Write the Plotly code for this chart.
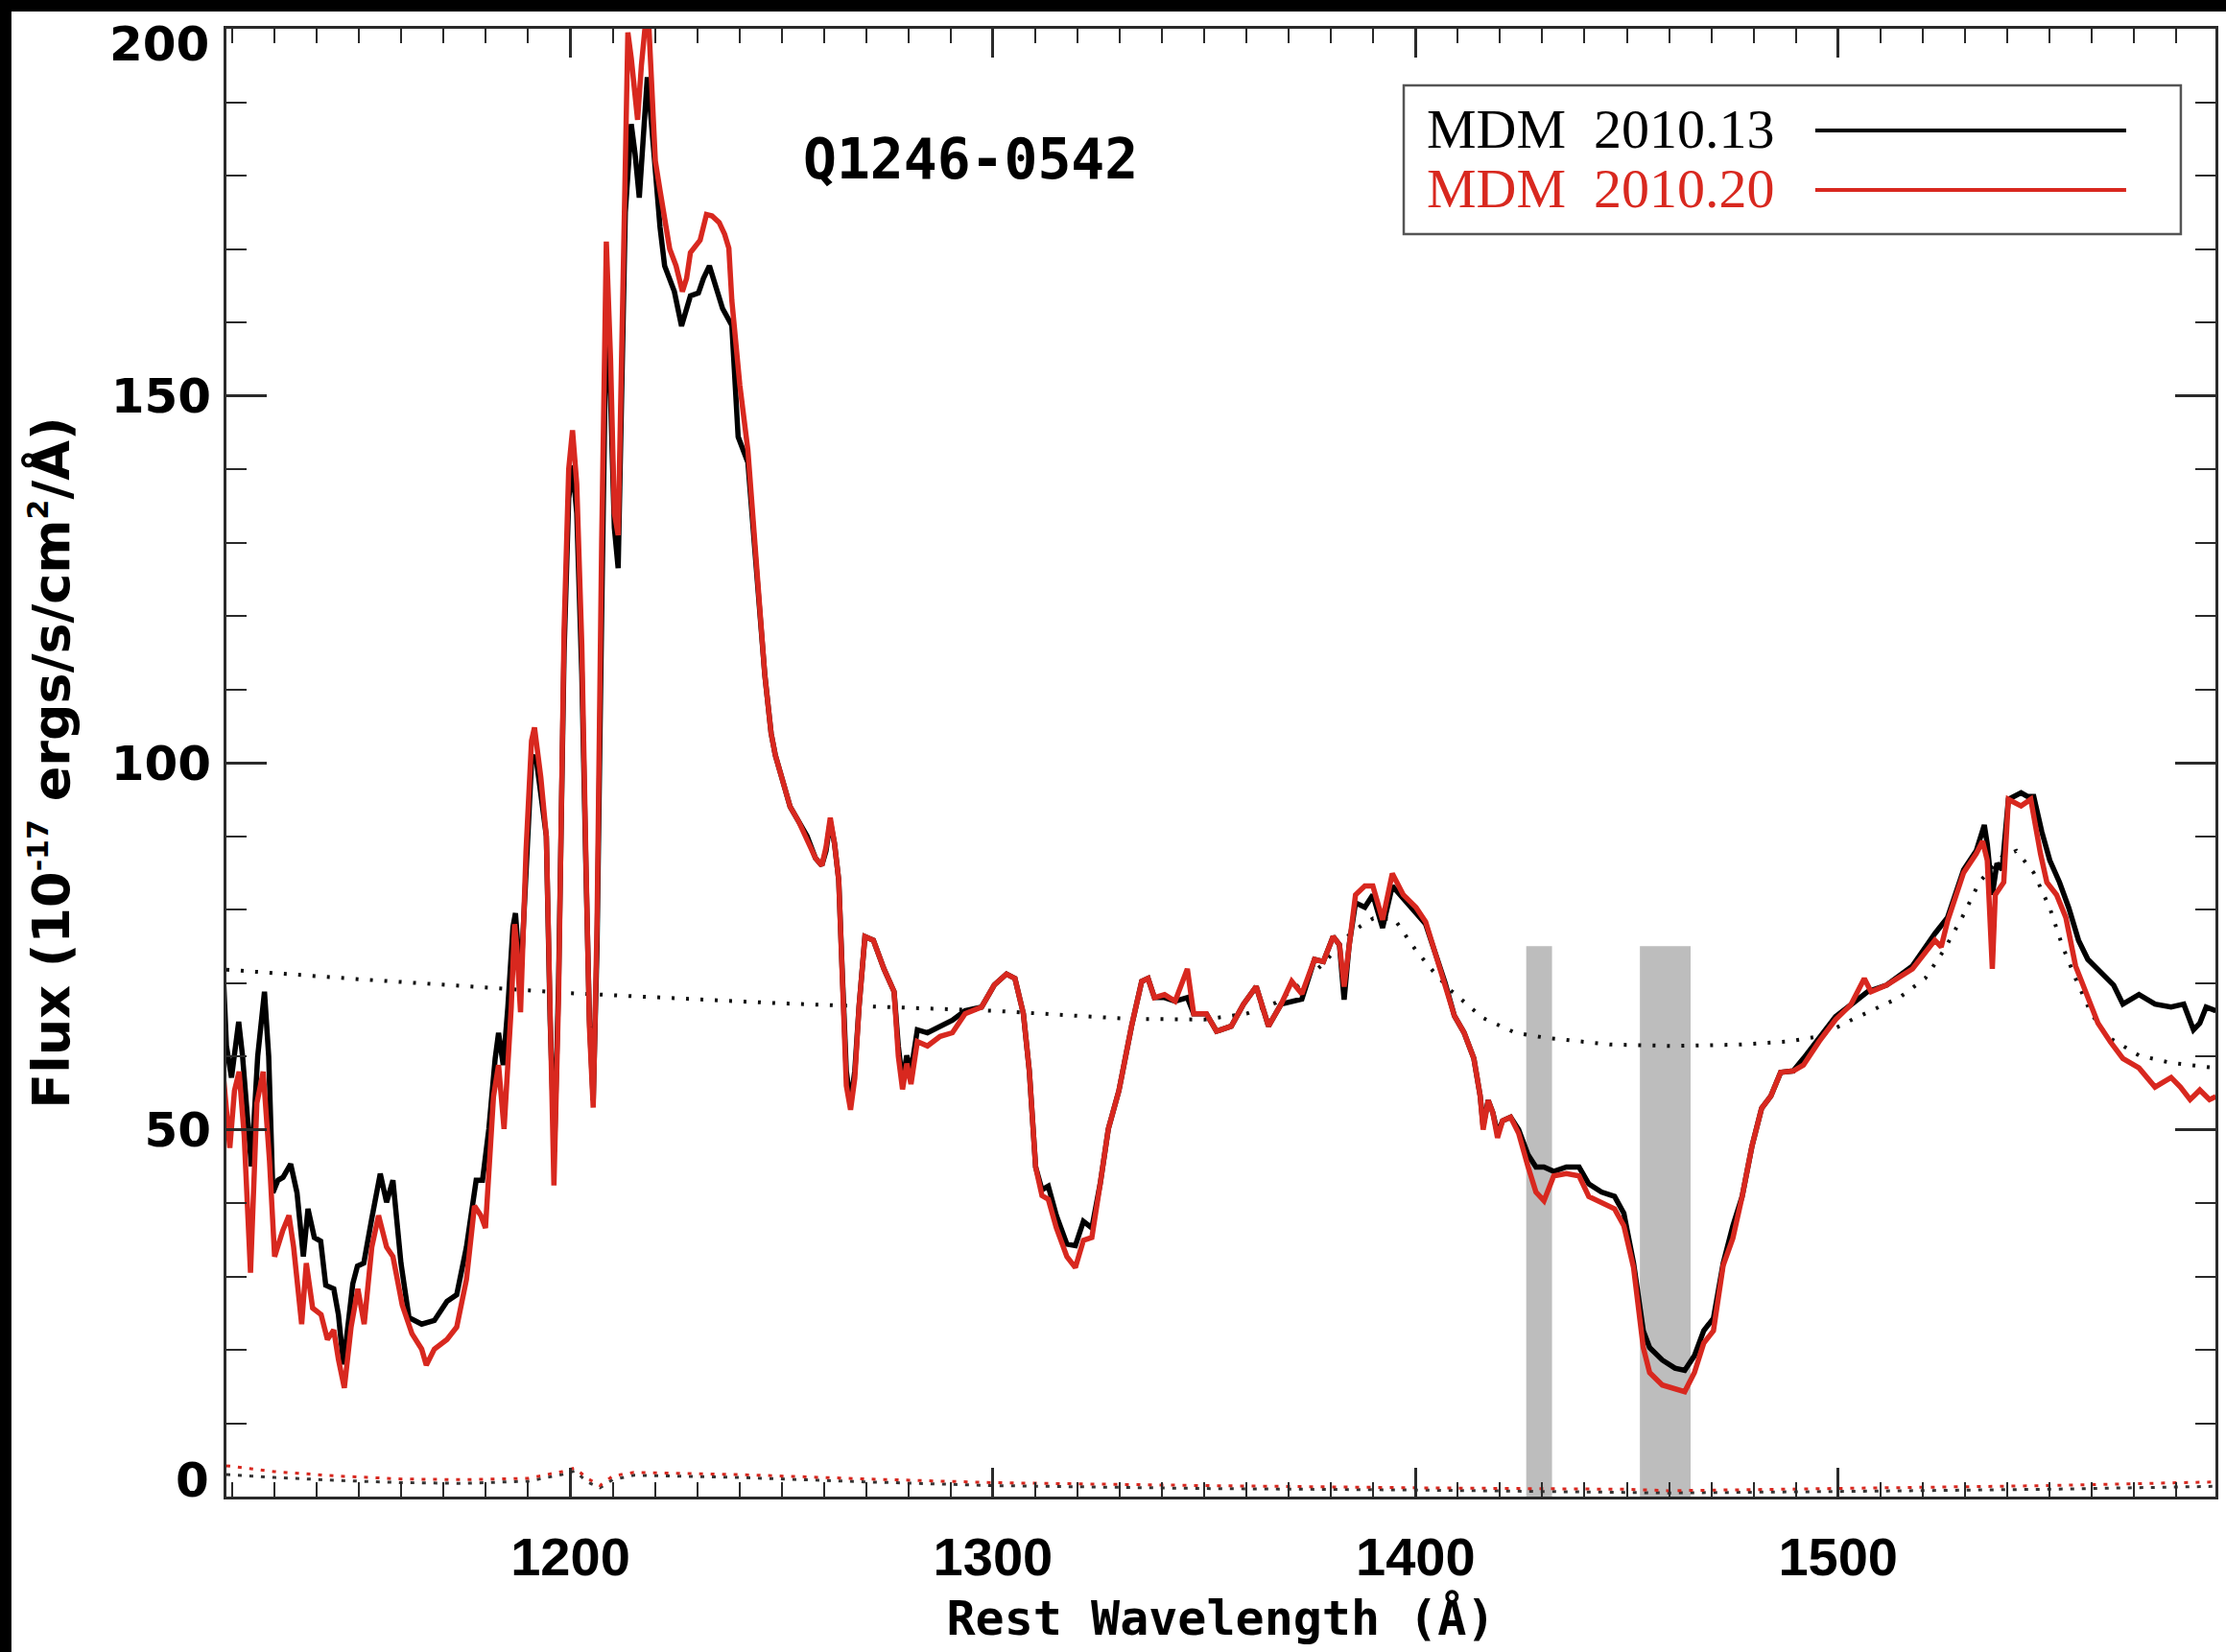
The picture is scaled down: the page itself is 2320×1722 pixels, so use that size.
import plotly.graph_objects as go

# MDM 2010.13 spectrum (rest wavelength in Angstrom, flux in 1e-17 erg/s/cm^2/A)
wave_1 = [1118.0, 1118.6, 1119.8, 1121.5, 1122.4, 1123.9, 1124.5, 1126.0, 1127.6, 1128.6,
          1129.6, 1130.8, 1132.0, 1133.8, 1135.3, 1136.8, 1137.9, 1139.4, 1140.9, 1142.1,
          1144.0, 1145.1, 1146.3, 1147.5, 1148.5, 1149.6, 1151.1, 1153.0, 1155.0, 1156.5,
          1158.0, 1159.9, 1161.8, 1164.8, 1167.8, 1170.8, 1173.1, 1175.4, 1177.7, 1179.2,
          1180.7, 1182.2, 1183.0, 1184.1, 1185.2, 1186.4, 1187.0, 1188.2, 1189.5, 1190.8,
          1191.8, 1193.0, 1194.3, 1195.2, 1196.2, 1197.2, 1198.5, 1199.6, 1200.5, 1201.5,
          1202.7, 1203.7, 1204.5, 1205.4, 1206.3, 1207.4, 1208.5, 1209.5, 1210.4, 1211.3,
          1212.2, 1213.0, 1214.4, 1215.3, 1216.3, 1217.2, 1218.2, 1219.2, 1220.1, 1221.2,
          1222.3, 1223.5, 1224.6, 1226.3, 1227.4, 1228.4, 1230.3, 1231.5, 1232.9, 1234.4,
          1236.0, 1238.2, 1239.7, 1242.0, 1244.3, 1246.0, 1247.5, 1248.5, 1250.0, 1252.0,
          1254.0, 1256.0, 1258.0, 1259.5, 1260.5, 1261.5, 1262.5, 1263.5, 1264.3, 1265.3,
          1266.3, 1267.3, 1268.3, 1269.7, 1271.7, 1274.2, 1276.6, 1277.6, 1278.6, 1279.6,
          1280.6, 1282.1, 1284.5, 1287.5, 1290.4, 1293.4, 1297.3, 1300.3, 1303.2, 1305.2,
          1307.2, 1308.6, 1310.1, 1311.6, 1313.1, 1315.0, 1317.5, 1319.5, 1321.4, 1323.4,
          1325.4, 1327.3, 1329.8, 1332.8, 1335.2, 1336.7, 1338.2, 1340.6, 1343.1, 1346.0,
          1347.5, 1350.5, 1352.9, 1356.4, 1359.3, 1362.3, 1365.2, 1368.2, 1370.7, 1373.1,
          1376.1, 1378.2, 1380.5, 1382.0, 1383.1, 1384.3, 1385.8, 1388.0, 1389.9, 1392.2,
          1394.5, 1397.1, 1400.1, 1402.4, 1404.7, 1407.0, 1409.2, 1411.5, 1413.8, 1415.3,
          1416.0, 1417.2, 1418.3, 1419.4, 1420.6, 1422.5, 1424.4, 1426.6, 1428.5, 1430.4,
          1432.7, 1435.7, 1438.7, 1441.0, 1444.0, 1447.1, 1449.3, 1451.6, 1453.9, 1455.4,
          1458.4, 1461.4, 1463.7, 1466.0, 1468.2, 1470.5, 1472.8, 1475.1, 1477.3, 1479.6,
          1481.9, 1484.1, 1486.4, 1489.4, 1491.8, 1495.5, 1499.4, 1503.0, 1507.0, 1511.5,
          1517.6, 1522.9, 1525.9, 1529.7, 1532.7, 1534.6, 1535.3, 1536.5, 1537.6, 1538.8,
          1540.3, 1543.3, 1544.8, 1546.3, 1548.2, 1550.1, 1552.4, 1554.6, 1556.9, 1559.1,
          1562.2, 1565.2, 1567.4, 1571.2, 1575.0, 1578.8, 1581.8, 1584.1, 1585.6, 1587.1,
          1589.4]
flux_1 = [69.5, 61.4, 57.1, 64.7, 60.1, 49.2, 45.0, 60.0, 68.8, 60.0,
          41.4, 43.1, 43.5, 45.3, 41.4, 32.7, 39.2, 35.3, 34.8, 28.8,
          28.3, 24.8, 18.0, 24.0, 29.0, 31.4, 31.8, 37.9, 44.0, 40.1,
          43.1, 31.8, 24.4, 23.5, 24.0, 26.6, 27.5, 34.0, 43.1, 43.1,
          50.1, 59.7, 63.2, 58.8, 66.7, 77.6, 79.5, 70.0, 85.0, 100.0,
          101.0, 96.0, 90.0, 65.0, 47.0, 70.0, 115.0, 136.0, 140.5, 134.0,
          112.0, 85.0, 65.0, 54.0, 75.0, 120.0, 162.0, 150.0, 132.0, 126.5,
          150.0, 175.0, 187.0, 183.0, 177.0, 186.0, 193.4, 187.0, 180.6, 173.0,
          167.7, 166.0, 164.2, 159.5, 162.0, 163.6, 164.0, 166.0, 167.7, 165.0,
          161.9, 159.6, 144.4, 140.9, 125.1, 112.0, 104.0, 101.0, 98.0, 94.0,
          92.0, 90.0, 87.0, 86.0, 88.0, 92.0, 89.0, 84.0, 72.0, 58.0,
          53.6, 58.0, 66.7, 76.3, 75.8, 71.9, 68.8, 61.4, 56.5, 60.1,
          58.0, 63.6, 63.2, 64.1, 64.9, 66.2, 66.7, 69.7, 71.2, 70.6,
          65.8, 58.0, 44.9, 41.8, 42.3, 38.3, 34.4, 34.2, 37.5, 36.6,
          42.7, 50.1, 55.3, 64.1, 70.2, 70.6, 68.0, 68.0, 67.5, 68.0,
          65.8, 65.8, 63.4, 64.1, 67.1, 69.5, 64.1, 67.1, 67.5, 67.8,
          73.2, 72.9, 76.3, 75.2, 67.7, 75.2, 80.9, 80.3, 82.0, 77.5,
          83.2, 81.5, 79.7, 78.0, 74.0, 70.0, 65.5, 63.2, 59.7, 54.6,
          50.5, 54.0, 52.3, 49.5, 51.2, 51.7, 50.0, 46.6, 44.9, 44.9,
          44.3, 44.9, 44.9, 42.6, 41.5, 40.9, 38.6, 31.8, 22.6, 20.3,
          18.6, 17.5, 17.2, 19.2, 22.6, 24.3, 31.8, 36.9, 40.9, 47.7,
          52.9, 54.6, 57.8, 58.0, 59.7, 62.6, 65.4, 67.0, 68.8, 69.7,
          72.3, 76.7, 78.9, 85.4, 88.0, 91.5, 88.9, 82.0, 86.3, 85.4,
          95.0, 95.9, 95.4, 95.4, 90.6, 86.7, 83.7, 80.2, 75.8, 73.2,
          71.5, 69.7, 67.1, 68.4, 67.1, 66.7, 67.1, 63.6, 64.5, 66.7,
          66.2]

# MDM 2010.20 spectrum
wave_2 = [1118.0, 1119.4, 1120.5, 1121.6, 1122.8, 1124.3, 1125.8, 1127.3, 1128.8, 1130.0,
          1131.9, 1133.4, 1134.5, 1136.4, 1137.5, 1139.0, 1141.0, 1142.5, 1144.0, 1145.1,
          1146.5, 1148.1, 1149.7, 1151.2, 1153.0, 1154.6, 1156.5, 1158.0, 1160.2, 1162.5,
          1164.8, 1165.9, 1167.8, 1170.8, 1173.1, 1175.4, 1177.3, 1178.8, 1179.9, 1181.8,
          1183.0, 1184.3, 1186.0, 1186.8, 1187.3, 1188.2, 1189.5, 1190.8, 1191.5, 1193.0,
          1194.3, 1195.3, 1196.1, 1197.2, 1198.5, 1199.6, 1200.5, 1201.5, 1202.7, 1203.7,
          1204.5, 1205.4, 1206.3, 1207.4, 1208.5, 1209.5, 1210.4, 1211.3, 1212.2, 1213.0,
          1213.6, 1214.4, 1215.9, 1216.8, 1217.8, 1218.6, 1219.4, 1220.1, 1221.2, 1222.3,
          1223.5, 1225.0, 1226.5, 1227.5, 1228.4, 1230.7, 1232.2, 1233.5, 1235.2, 1236.5,
          1237.5, 1238.2, 1240.1, 1242.0, 1244.3, 1246.0, 1247.5, 1248.5, 1250.0, 1252.0,
          1254.0, 1256.0, 1258.0, 1259.5, 1260.5, 1261.5, 1262.5, 1263.5, 1264.3, 1265.3,
          1266.3, 1267.3, 1268.3, 1269.7, 1271.7, 1274.2, 1276.6, 1277.6, 1278.6, 1279.6,
          1280.6, 1282.1, 1284.5, 1287.5, 1290.4, 1293.4, 1297.3, 1300.3, 1303.2, 1305.2,
          1307.2, 1308.6, 1310.1, 1311.6, 1313.1, 1315.0, 1317.5, 1319.5, 1321.4, 1323.4,
          1325.4, 1327.3, 1329.8, 1332.8, 1335.2, 1336.7, 1338.2, 1340.6, 1343.1, 1346.0,
          1347.5, 1350.5, 1352.9, 1356.4, 1359.3, 1362.3, 1365.2, 1368.2, 1370.7, 1373.1,
          1376.1, 1378.2, 1380.5, 1382.0, 1383.1, 1384.3, 1385.8, 1388.0, 1389.9, 1392.2,
          1394.5, 1397.1, 1400.1, 1402.4, 1404.7, 1407.0, 1409.2, 1411.5, 1413.8, 1415.3,
          1416.0, 1417.2, 1418.3, 1419.4, 1420.6, 1422.5, 1424.4, 1426.6, 1428.5, 1430.4,
          1432.7, 1435.7, 1438.7, 1441.0, 1444.0, 1447.1, 1449.3, 1451.6, 1453.9, 1455.4,
          1458.4, 1461.4, 1463.7, 1466.0, 1468.2, 1470.5, 1472.8, 1475.1, 1477.3, 1479.6,
          1481.9, 1484.1, 1486.4, 1489.4, 1491.8, 1495.5, 1499.4, 1503.0, 1506.2, 1507.8,
          1511.5, 1517.6, 1522.9, 1524.4, 1525.9, 1529.7, 1532.7, 1534.2, 1535.3, 1536.5,
          1537.2, 1539.2, 1540.3, 1543.3, 1545.6, 1547.9, 1549.4, 1551.7, 1553.9, 1556.2,
          1558.5, 1561.5, 1564.5, 1567.4, 1571.2, 1575.0, 1578.8, 1581.0, 1583.3, 1585.6,
          1587.9, 1589.4]
flux_2 = [56.6, 47.5, 55.3, 57.9, 49.2, 30.5, 53.6, 57.9, 45.7, 32.7,
          36.2, 38.3, 34.0, 23.5, 31.8, 25.7, 24.8, 21.4, 22.7, 18.7,
          14.8, 23.1, 28.3, 23.5, 34.0, 38.3, 34.0, 32.7, 26.1, 22.2,
          20.1, 17.9, 20.1, 21.4, 23.1, 29.6, 39.6, 38.3, 36.6, 54.5,
          58.8, 50.1, 66.7, 78.0, 75.0, 66.0, 88.0, 103.0, 104.8, 98.0,
          90.0, 62.0, 42.4, 68.0, 118.0, 140.0, 145.3, 138.0, 116.0, 86.0,
          64.0, 53.0, 78.0, 130.0, 171.0, 155.0, 134.0, 131.0, 160.0, 190.0,
          199.5, 196.0, 187.6, 195.0, 201.0, 200.0, 190.0, 182.0, 178.0, 173.6,
          170.0, 167.7, 164.2, 166.0, 169.5, 171.2, 174.7, 174.5, 173.6, 172.0,
          170.1, 163.0, 151.4, 142.6, 125.1, 112.0, 104.0, 101.0, 98.0, 94.0,
          92.0, 89.5, 87.0, 86.0, 88.5, 92.5, 89.0, 84.0, 70.0, 56.0,
          52.7, 57.0, 66.7, 76.3, 75.8, 71.9, 68.8, 60.0, 55.5, 59.0,
          56.2, 62.0, 61.4, 62.7, 63.2, 65.8, 66.7, 69.7, 71.2, 70.6,
          65.8, 58.0, 44.9, 41.0, 40.5, 36.6, 32.7, 31.2, 34.9, 35.3,
          42.7, 50.1, 55.3, 64.1, 70.2, 70.6, 68.0, 68.4, 67.5, 71.9,
          65.8, 65.8, 63.4, 64.1, 67.1, 69.5, 64.1, 67.1, 70.2, 68.5,
          73.2, 72.9, 76.3, 75.2, 69.5, 75.2, 82.0, 83.2, 83.2, 78.6,
          84.9, 82.0, 80.3, 78.3, 74.0, 70.0, 65.5, 63.2, 59.7, 54.6,
          50.0, 54.0, 52.3, 48.9, 51.2, 51.7, 49.5, 45.0, 41.5, 40.3,
          43.7, 44.0, 43.7, 40.9, 40.0, 39.2, 36.9, 31.2, 20.3, 16.9,
          15.2, 14.6, 14.3, 16.9, 20.9, 22.6, 31.5, 35.2, 40.9, 47.7,
          52.9, 54.6, 57.8, 58.0, 58.8, 62.0, 65.0, 67.0, 70.6, 68.8,
          69.7, 71.9, 75.8, 74.9, 78.4, 85.0, 87.6, 89.3, 86.7, 71.9,
          82.0, 83.7, 95.0, 94.1, 95.0, 87.6, 83.7, 82.0, 78.9, 72.3,
          68.8, 64.5, 61.9, 59.7, 58.4, 55.8, 57.1, 55.8, 54.1, 55.4,
          54.1, 54.5]

# Continuum model (dotted)
wave_cont = [1118.6, 1150.0, 1200.0, 1229.0, 1250.0, 1300.0, 1332.0, 1350.0, 1360.0, 1367.0,
             1372.0, 1378.0, 1385.0, 1390.0, 1395.0, 1400.0, 1405.0, 1408.5, 1416.0, 1423.6,
             1431.0, 1446.0, 1461.0, 1477.0, 1488.0, 1495.5, 1503.0, 1514.5, 1520.6, 1525.1,
             1529.7, 1533.4, 1538.8, 1542.2, 1546.3, 1550.1, 1553.1, 1556.2, 1559.9, 1563.7,
             1571.2, 1578.8, 1589.3]
flux_cont = [71.8, 70.5, 68.6, 67.8, 67.2, 66.2, 65.1, 65.0, 65.8, 67.3,
             69.5, 72.5, 77.0, 78.8, 78.7, 74.5, 71.0, 68.9, 65.2, 63.2,
             62.5, 61.6, 61.4, 61.6, 62.0, 62.7, 64.9, 68.0, 70.6, 74.5,
             79.3, 83.7, 87.2, 88.0, 85.0, 80.2, 75.0, 70.6, 65.8, 62.7,
             60.1, 59.1, 58.4]

# Flux uncertainties for both epochs
wave_err = [1118.6, 1130.0, 1145.0, 1160.0, 1175.0, 1190.0, 1198.0, 1201.0, 1204.0, 1207.0,
            1210.0, 1215.0, 1240.0, 1270.0, 1300.0, 1350.0, 1400.0, 1450.0, 1460.0, 1500.0,
            1550.0, 1589.3]
err_1 = [3.0, 2.6, 2.2, 1.9, 1.8, 2.1, 3.0, 3.5, 2.0, 1.2,
         2.3, 2.9, 2.6, 2.0, 1.5, 1.1, 0.9, 0.6, 0.5, 0.7,
         1.0, 1.4]
err_2 = [4.2, 3.4, 2.8, 2.4, 2.3, 2.5, 3.4, 3.9, 2.5, 1.5,
         2.8, 3.3, 3.0, 2.4, 1.9, 1.5, 1.2, 1.0, 0.8, 1.1,
         1.5, 2.0]

# Shaded wavelength windows
band_lo = [1426.2, 1453.1]
band_hi = [1432.3, 1465.1]
band_top = 75.0

# Axis ticks
flux_range = [0, 200]
flux_ticks = [0, 50, 100, 150, 200]
wave_range = [1118.6, 1589.3]

labels = ["MDM  2010.13", "MDM  2010.20"]
object_name = "Q1246-0542"

BLACK = "#000000"
RED = "#d8281f"
AXIS = "#2a2a2a"
YFONT = dict(family="DejaVu Sans", size=50, color=BLACK, weight="bold")
XFONT = dict(family="Liberation Sans", size=56, color=BLACK, weight="bold")

fig = go.Figure()

fig.add_trace(go.Scatter(x=wave_cont, y=flux_cont, mode="lines",
                         line=dict(color="#111111", width=4, dash="3px,12px"),
                         hoverinfo="skip"))
fig.add_trace(go.Scatter(x=wave_err, y=err_1, mode="lines",
                         line=dict(color="#333333", width=3, dash="4px,8px"),
                         hoverinfo="skip"))
fig.add_trace(go.Scatter(x=wave_err, y=err_2, mode="lines",
                         line=dict(color=RED, width=3, dash="4px,8px"),
                         hoverinfo="skip"))
fig.add_trace(go.Scatter(x=wave_1, y=flux_1, mode="lines", name=labels[0],
                         line=dict(color=BLACK, width=5.5)))
fig.add_trace(go.Scatter(x=wave_2, y=flux_2, mode="lines", name=labels[1],
                         line=dict(color=RED, width=5.5)))

shapes = []
for lo, hi in zip(band_lo, band_hi):
    shapes.append(dict(type="rect", xref="x", yref="y", x0=lo, x1=hi, y0=0, y1=band_top,
                       fillcolor="#bdbdbd", line=dict(width=0), layer="below"))

# legend: text on the left, sample line on the right
shapes.append(dict(type="rect", xref="paper", yref="paper", x0=0.5919, x1=0.9826,
                   y0=0.8601, y1=0.9614, line=dict(color="#555555", width=2.5),
                   fillcolor="white", layer="above"))
shapes.append(dict(type="line", xref="paper", yref="paper", x0=0.7988, x1=0.9551,
                   y0=0.9307, y1=0.9307, line=dict(color=BLACK, width=4), layer="above"))
shapes.append(dict(type="line", xref="paper", yref="paper", x0=0.7988, x1=0.9551,
                   y0=0.8902, y1=0.8902, line=dict(color=RED, width=4), layer="above"))

# dark frame along the top and left edges of the page
shapes.append(dict(type="rect", xref="paper", yref="paper", x0=-0.12, x1=1.01,
                   y0=1.0118, y1=1.03, fillcolor="black", line=dict(width=0), layer="above"))
shapes.append(dict(type="rect", xref="paper", yref="paper", x0=-0.12, x1=-0.1081,
                   y0=-0.12, y1=1.03, fillcolor="black", line=dict(width=0), layer="above"))

annotations = [
    dict(text=labels[0], xref="paper", yref="paper", x=0.6025, y=0.9314,
         xanchor="left", yanchor="middle", showarrow=False,
         font=dict(family="Liberation Serif", size=58, color=BLACK)),
    dict(text=labels[1], xref="paper", yref="paper", x=0.6025, y=0.8915,
         xanchor="left", yanchor="middle", showarrow=False,
         font=dict(family="Liberation Serif", size=58, color=RED)),
    dict(text=object_name, xref="paper", yref="paper", x=0.3739, y=0.9111,
         xanchor="center", yanchor="middle", showarrow=False,
         font=dict(family="DejaVu Sans Mono", size=58, color=BLACK, weight="bold")),
]

# end labels of the flux axis sit inside the axis span
annotations.append(dict(text=str(flux_ticks[-1]), xref="paper", yref="y", x=0,
                        y=flux_ticks[-1], xanchor="right", yanchor="top", xshift=-16,
                        yshift=15, showarrow=False, font=YFONT))
annotations.append(dict(text=str(flux_ticks[0]), xref="paper", yref="y", x=0,
                        y=flux_ticks[0], xanchor="right", yanchor="bottom", xshift=-16,
                        yshift=-14, showarrow=False, font=YFONT))

fig.update_layout(
    width=2320, height=1722,
    margin=dict(l=236, r=11, t=30, b=162),
    paper_bgcolor="white", plot_bgcolor="white",
    showlegend=False,
    shapes=shapes, annotations=annotations,
    xaxis=dict(range=wave_range, showgrid=False, zeroline=False,
               showline=True, linecolor=AXIS, linewidth=3, mirror="ticks",
               ticks="inside", ticklen=30, tickwidth=2.5, tickcolor=AXIS,
               tick0=1200, dtick=100, tickfont=XFONT, ticklabelstandoff=12,
               minor=dict(ticks="inside", ticklen=15, tickwidth=2, tickcolor=AXIS,
                          dtick=10, tick0=1200, showgrid=False),
               title=dict(text="Rest Wavelength (Å)", standoff=16,
                          font=dict(family="DejaVu Sans Mono", size=50, color=BLACK,
                                    weight="bold"))),
    yaxis=dict(range=flux_range, showgrid=False, zeroline=False,
               showline=True, linecolor=AXIS, linewidth=3, mirror="ticks",
               ticks="inside", ticklen=42, tickwidth=2.5, tickcolor=AXIS,
               tickmode="array", tickvals=flux_ticks[1:-1], tickfont=YFONT,
               ticklabelstandoff=3,
               minor=dict(ticks="inside", ticklen=21, tickwidth=2, tickcolor=AXIS,
                          tickmode="linear", dtick=10, tick0=0, showgrid=False),
               title=dict(text="Flux (10<sup><span style='font-size:30px'>-17</span></sup> "
                               "ergs/s/cm<sup><span style='font-size:30px'>2</span></sup>/Å)",
                          standoff=26,
                          font=dict(family="DejaVu Sans", size=54, color=BLACK,
                                    weight="bold"))),
)
fig.update_xaxes(automargin=False)
fig.update_yaxes(automargin=False)

fig.write_html("out.html")
